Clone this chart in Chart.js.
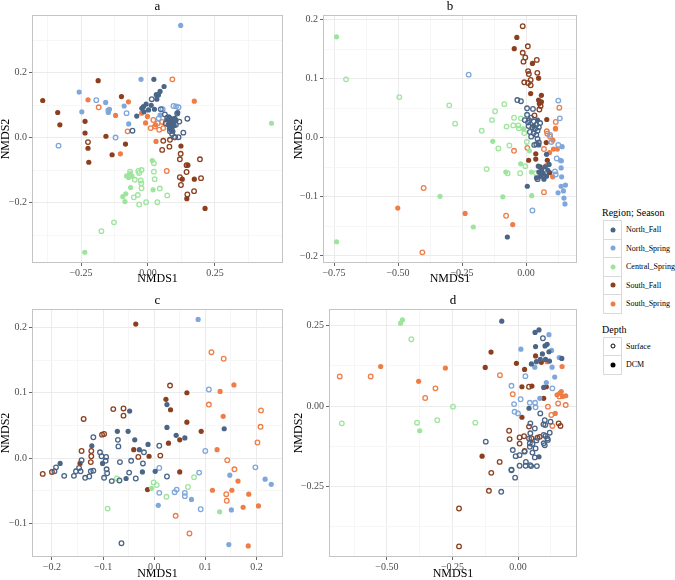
<!DOCTYPE html>
<html>
<head>
<meta charset="utf-8">
<script src="https://cdn.jsdelivr.net/npm/chart.js@4.4.1/dist/chart.umd.min.js"></script>
<style>
  body { margin: 0; background: #fff; font-family: "Liberation Serif", serif; }
  #wrap { position: relative; width: 675px; height: 580px; }
  #wrap canvas { position: absolute; }
  #legend { position: absolute; left: 602px; top: 205px; color: #000; }
  .ltitle { font-size: 10px; height: 15px; line-height: 15px; }
  .lrow { position: relative; height: 18.5px; }
  .lkey { position: absolute; left: 1px; top: 0; width: 17px; height: 17.5px; border: 1px solid #dadada; background: #fff; }
  .lkey i { position: absolute; left: 50%; top: 50%; border-radius: 50%; transform: translate(-50%, -50%); }
  .llab { position: absolute; left: 24px; top: 0; line-height: 19px; font-size: 8px; white-space: nowrap; }
</style>
</head>
<body>
<div id="wrap">
  <canvas id="pa" width="290" height="285" style="left:0;top:0"></canvas>
  <canvas id="pb" width="297" height="285" style="left:293px;top:0"></canvas>
  <canvas id="pc" width="290" height="295" style="left:0;top:285px"></canvas>
  <canvas id="pd" width="297" height="295" style="left:293px;top:285px"></canvas>
  <div id="legend"></div>
</div>
<script>
const regions = ['North_Fall', 'North_Spring', 'Central_Spring', 'South_Fall', 'South_Spring'];
const regionColors = ['#4a6587', '#7fa7db', '#9de59d', '#8c3f1e', '#ef7d47'];
const depths = ['Surface', 'DCM'];

// panel a  (NF = North_Fall, NS = North_Spring, CS = Central_Spring, SF = South_Fall, SS = South_Spring; _S surface, _D DCM)
const aNF_S = [[0.014,0.119],[0.048,0.088],[0.063,0.072],[0.109,0.075],[0.147,0.059],[0.132,0.016],[0.114,0.002],[0.098,0.002],[0.082,0.020],[0.066,0.045],[0.117,0.050],[-0.058,0.022],[0.072,0.062],[0.104,0.040],[0.090,0.012]];
const aNF_D = [[0.022,0.180],[0.060,0.158],[0.045,0.143],[0.039,0.132],[0.031,0.133],[0.033,0.119],[-0.007,0.104],[-0.017,0.096],[0.002,0.086],[0.024,0.088],[-0.023,0.091],[-0.042,0.067],[-0.015,0.080],[0.012,0.100],[0.078,0.065],[0.085,0.060],[0.092,0.055],[0.080,0.050],[0.088,0.045],[0.095,0.048],[0.100,0.060],[0.075,0.040],[0.083,0.035],[0.090,0.030],[0.098,0.038],[0.105,0.055],[0.086,0.025],[0.093,0.020],[0.080,0.028],[0.070,0.055],[0.111,0.078]];
const aNS_S = [[-0.193,0.116],[-0.148,0.084],[-0.080,0.076],[-0.121,0.001],[-0.334,-0.024],[0.095,0.098],[0.105,0.097],[0.114,0.094],[0.055,0.088],[0.040,0.060]];
const aNS_D = [[0.122,0.346],[-0.026,0.180],[-0.257,0.141],[-0.158,0.109],[-0.089,0.098],[-0.144,0.088],[-0.148,0.078],[-0.247,0.080],[-0.072,0.043],[0.045,0.070]];
const aCS_S = [[0.022,-0.078],[-0.024,-0.099],[-0.036,-0.102],[-0.033,-0.108],[-0.067,-0.104],[-0.049,-0.129],[-0.027,-0.131],[-0.025,-0.140],[0.022,-0.104],[0.025,-0.127],[-0.024,-0.155],[0.044,-0.156],[-0.038,-0.176],[-0.053,-0.183],[-0.033,-0.205],[-0.007,-0.198],[0.035,-0.198],[0.072,-0.177],[-0.127,-0.260],[-0.174,-0.287]];
const aCS_D = [[0.461,0.045],[0.016,-0.070],[-0.067,-0.110],[-0.080,-0.117],[-0.072,-0.122],[-0.060,-0.118],[-0.065,-0.153],[0.019,-0.160],[-0.083,-0.172],[-0.094,-0.181],[-0.086,-0.196],[-0.236,-0.352]];
const aSF_S = [[-0.224,-0.013],[0.057,-0.009],[0.082,-0.006],[0.080,-0.027],[0.053,-0.037],[0.101,0.002],[0.122,-0.049],[0.119,-0.066],[0.144,-0.084],[0.194,-0.066],[0.144,-0.105],[0.119,-0.121],[0.123,-0.145],[0.198,-0.124],[0.172,-0.164],[0.147,-0.174]];
const aSF_D = [[-0.186,0.176],[-0.393,0.115],[-0.099,0.127],[-0.337,0.078],[-0.235,0.051],[-0.329,0.040],[-0.235,0.015],[-0.157,0.005],[-0.224,-0.032],[-0.084,-0.019],[-0.134,-0.052],[-0.221,-0.075],[0.123,-0.025],[0.149,-0.084],[0.128,-0.127],[0.173,-0.127],[0.145,-0.187],[0.213,-0.217]];
const aSS_S = [[0.091,0.180],[-0.184,0.094],[-0.076,0.020],[0.020,0.055],[0.036,0.045],[0.053,0.049],[0.026,0.035],[0.010,0.030],[0.042,0.025],[0.057,0.030],[0.070,-0.102]];
const aSS_D = [[-0.224,0.117],[-0.073,0.111],[-0.121,0.069],[-0.024,0.076],[-0.002,0.066],[-0.009,0.046],[0.173,0.113],[0.030,-0.011],[-0.103,-0.049],[0.028,0.040]];

// panel b
const bNF_S = [[-0.034,0.064],[-0.020,0.062],[0.004,0.050],[0.027,0.049],[0.004,0.039],[0.012,0.030],[0.020,0.034],[0.030,0.028],[0.040,0.022],[0.010,0.020],[0.025,0.018],[0.035,0.015],[0.045,0.012],[0.015,0.010],[0.030,0.008],[0.040,0.005],[0.050,0.018],[0.055,0.025],[0.020,0.002],[0.045,-0.002],[0.050,-0.008],[0.032,-0.012],[0.040,-0.011],[-0.005,0.030],[0.008,0.026],[0.060,-0.062],[0.045,-0.070]];
const bNF_D = [[0.005,-0.082],[-0.073,-0.168],[0.041,-0.068],[0.057,-0.065],[0.067,-0.060],[0.080,-0.065],[0.061,-0.054],[0.074,-0.049],[0.050,-0.058],[0.085,-0.055],[0.070,-0.070],[0.048,-0.048],[0.090,-0.045],[0.080,-0.028],[0.050,-0.012],[0.030,0.020],[0.045,0.030]];
const bNS_S = [[-0.224,0.107],[0.126,0.063],[0.132,0.033],[0.099,-0.007],[0.126,-0.012],[0.120,-0.035],[0.113,-0.057],[0.116,-0.062],[0.025,-0.123],[0.094,0.005]];
const bNS_D = [[0.141,-0.015],[0.134,-0.038],[0.138,-0.039],[0.137,-0.051],[0.139,-0.066],[0.154,-0.080],[0.137,-0.082],[0.125,-0.093],[0.146,-0.090],[0.148,-0.102],[0.152,-0.112]];
const bCS_S = [[-0.703,0.099],[-0.495,0.069],[-0.300,0.055],[-0.277,0.024],[-0.173,0.012],[-0.133,0.030],[-0.121,0.045],[-0.085,0.057],[-0.108,-0.018],[-0.065,-0.013],[-0.076,0.019],[-0.047,0.034],[-0.050,0.021],[-0.030,0.021],[-0.028,0.016],[-0.020,0.033],[-0.007,0.008],[0.003,-0.007],[-0.154,-0.053],[-0.072,-0.060],[-0.003,-0.048],[-0.023,-0.060],[0.039,-0.060]];
const bCS_D = [[-0.740,0.171],[-0.130,-0.006],[-0.010,0.015],[0.013,-0.022],[-0.079,-0.058],[-0.021,-0.044],[0.021,-0.058],[-0.336,-0.099],[-0.091,-0.100],[0.022,-0.098],[-0.206,-0.151],[-0.740,-0.176]];
const bSF_S = [[-0.013,0.189],[0.007,0.155],[-0.013,0.144],[-0.003,0.136],[-0.010,0.129],[0.042,0.132],[0.008,0.113],[0.044,0.110],[0.011,0.108],[0.018,0.098],[-0.007,0.094],[0.008,0.093],[0.018,0.089],[0.057,0.054],[0.052,0.048],[0.033,0.038]];
const bSF_D = [[-0.036,0.170],[-0.046,0.151],[0.025,0.126],[0.049,0.101],[0.018,0.075],[0.060,0.072],[0.049,0.064],[0.060,0.061],[0.052,0.058],[0.081,0.031],[0.079,-0.008],[0.038,-0.027],[0.038,-0.036],[0.010,-0.038],[0.055,-0.049],[0.083,-0.038],[0.092,-0.059]];
const bSS_S = [[-0.400,-0.085],[-0.405,-0.194],[-0.078,-0.132],[-0.047,-0.022],[0.005,-0.017],[0.070,-0.019],[0.070,-0.092],[0.094,0.002],[0.081,0.011],[0.083,0.007],[0.116,0.027],[0.130,0.051]];
const bSS_D = [[-0.501,-0.119],[-0.238,-0.128],[-0.052,-0.147],[0.092,-0.025],[0.079,-0.047],[0.104,-0.066],[0.107,-0.019],[0.122,-0.019],[0.105,-0.004],[0.115,0.015],[0.115,0.016]];

// panel c
const cNF_S = [[-0.119,0.032],[-0.071,0.028],[-0.070,0.018],[-0.106,0.009],[-0.103,0.003],[-0.094,0.002],[-0.095,-0.004],[-0.142,-0.003],[-0.067,-0.006],[-0.045,-0.004],[-0.020,0.009],[-0.022,-0.008],[-0.192,-0.014],[-0.195,-0.020],[-0.176,-0.027],[-0.157,-0.027],[-0.153,-0.020],[-0.144,-0.020],[-0.147,-0.015],[-0.135,-0.030],[-0.127,-0.028],[-0.119,-0.019],[-0.124,-0.020],[-0.093,-0.017],[-0.092,-0.023],[-0.098,-0.030],[-0.083,-0.035],[-0.068,-0.034],[-0.049,-0.022],[-0.036,-0.031],[0.025,-0.028],[-0.064,-0.130],[0.010,0.019]];
const cNF_D = [[-0.048,0.072],[-0.072,0.041],[-0.051,0.041],[-0.038,0.028],[-0.012,0.021],[0.025,0.047],[0.025,0.082],[0.043,0.035],[0.060,0.031],[0.137,0.045],[-0.122,0.019],[-0.101,-0.008],[-0.184,-0.008],[-0.029,0.013],[-0.055,-0.031],[-0.023,-0.021],[0.002,-0.020]];
const cNS_S = [[0.107,0.105],[0.100,0.011],[0.010,-0.015],[0.010,-0.053],[0.044,-0.048],[0.040,-0.052],[0.060,-0.053],[0.060,-0.058],[0.088,-0.022],[0.091,-0.078],[0.198,-0.014]];
const cNS_D = [[0.086,0.212],[0.008,-0.072],[0.073,-0.063],[0.148,-0.026],[0.151,-0.079],[0.217,-0.032],[0.229,-0.040],[0.146,-0.132]];
const cCS_S = [[-0.073,-0.031],[-0.091,-0.077],[-0.001,-0.037],[0.005,-0.041],[0.024,-0.059],[0.066,-0.044],[0.078,-0.029]];
const cCS_D = [[-0.005,-0.046],[0.128,-0.082]];
const cSF_S = [[0.031,0.111],[0.012,0.004],[-0.031,0.002],[-0.138,0.060],[-0.080,0.075],[-0.060,0.076],[-0.060,0.065],[-0.102,0.036],[-0.098,0.037],[-0.142,0.011],[-0.123,0.011],[-0.123,0.003],[-0.124,-0.006],[-0.218,-0.024],[-0.200,-0.021]];
const cSF_D = [[-0.036,0.205],[0.023,0.090],[0.032,0.074],[0.064,0.100],[0.064,0.055],[0.092,0.041],[0.028,0.023],[0.050,0.028],[-0.010,0.003],[-0.040,0.013],[0.050,-0.021],[-0.013,-0.048],[-0.145,-0.008]];
const cSS_S = [[0.112,0.162],[0.136,0.152],[0.107,0.082],[0.209,0.073],[0.208,0.048],[0.202,0.024],[0.143,-0.003],[0.157,-0.017],[0.141,-0.055],[0.142,-0.065],[0.042,-0.088],[0.069,-0.115]];
const cSS_D = [[0.156,0.112],[0.129,0.102],[0.135,0.064],[0.123,0.013],[0.164,-0.035],[0.114,-0.049],[0.152,-0.049],[0.185,-0.055],[0.174,-0.075],[0.204,-0.073],[0.184,-0.134]];

// panel d
const dNF_S = [[0.095,0.211],[-0.123,-0.111],[-0.064,-0.267],[-0.025,-0.200],[-0.011,-0.223],[0.006,-0.186],[0.029,-0.186],[0.046,-0.184],[-0.020,-0.137],[0.025,-0.142],[0.006,-0.153],[0.045,-0.127],[0.045,-0.116],[0.064,-0.160],[0.055,-0.145],[0.067,-0.132],[0.042,-0.101],[0.047,-0.085],[0.047,-0.054],[0.064,-0.070],[0.085,-0.023],[0.102,-0.044],[0.104,-0.059],[0.097,-0.057],[0.124,-0.049],[0.098,-0.090],[0.105,-0.093],[0.114,-0.106],[0.112,-0.101],[0.098,-0.116],[0.102,-0.122],[0.121,-0.083],[-0.009,-0.156],[0.030,-0.174],[0.050,-0.187],[0.072,-0.187],[-0.025,-0.198],[0.055,-0.118],[0.070,-0.107]];
const dNF_D = [[-0.062,0.264],[0.080,0.237],[0.065,0.229],[0.067,0.185],[0.111,0.192],[0.103,0.187],[0.118,0.169],[0.093,0.162],[0.085,0.145],[0.105,0.145],[0.167,0.148],[0.051,0.131],[0.070,0.138],[0.042,-0.007],[0.080,-0.158],[0.120,0.140],[0.098,0.058]];
const dNS_S = [[0.028,0.093],[-0.025,0.063],[0.131,0.055],[0.010,0.021],[-0.015,0.006],[0.045,0.010],[0.065,0.010],[0.067,-0.004],[-0.013,-0.018],[0.000,-0.023]];
const dNS_D = [[0.118,0.222],[0.011,0.177],[0.128,0.173],[0.157,0.151],[0.130,0.121],[0.064,0.121],[0.108,0.073],[0.083,0.024],[0.140,0.090]];
const dCS_S = [[-0.407,0.208],[-0.672,-0.054],[-0.385,-0.052],[-0.308,-0.044],[-0.248,-0.002],[-0.163,-0.052]];
const dCS_D = [[-0.441,0.268],[-0.448,0.258],[-0.375,-0.077]];
const dSF_S = [[-0.225,-0.319],[-0.225,-0.437],[-0.102,-0.208],[-0.111,-0.264],[-0.070,-0.174],[0.042,0.060],[-0.034,-0.077],[-0.032,-0.103],[0.006,-0.098],[0.023,-0.094],[0.006,-0.117],[0.051,-0.100],[0.074,-0.099],[0.083,-0.096],[0.025,-0.140],[0.155,-0.054],[0.162,-0.062],[0.042,-0.064]];
const dSF_D = [[-0.137,-0.156],[-0.125,0.120],[-0.103,0.168],[-0.006,0.133],[0.025,0.114],[0.015,0.060],[0.053,0.062],[0.067,0.156],[0.108,0.060],[0.098,0.024],[0.015,-0.035],[0.089,0.136]];
const dSS_S = [[-0.680,0.092],[-0.562,0.092],[-0.315,0.055],[-0.354,0.025],[-0.069,0.096],[-0.020,0.037],[0.153,0.008],[0.182,0.003],[0.114,-0.002],[0.127,-0.028],[0.131,-0.062],[0.158,0.030]];
const dSS_D = [[-0.524,0.123],[-0.277,0.118],[-0.379,0.077],[0.111,0.138],[0.168,0.123],[0.149,0.035],[0.160,0.040],[0.170,0.030],[0.182,0.032],[0.142,-0.023],[0.165,0.045]];

// axis ranges and ticks
const aXRange = [-0.433, 0.504], aYRange = [-0.385, 0.378];
const aXTicks = [-0.25, 0, 0.25], aXLabels = ['\u22120.25', '0.00', '0.25'], aXMinor = [-0.375, -0.125, 0.125, 0.375];
const aYTicks = [-0.2, 0, 0.2], aYLabels = ['\u22120.2', '0.0', '0.2'], aYMinor = [-0.3, -0.1, 0.1, 0.3];

const bXRange = [-0.793, 0.199], bYRange = [-0.212, 0.208];
const bXTicks = [-0.75, -0.5, -0.25, 0], bXLabels = ['\u22120.75', '\u22120.50', '\u22120.25', '0.00'], bXMinor = [-0.625, -0.375, -0.125, 0.125];
const bYTicks = [-0.2, -0.1, 0, 0.1, 0.2], bYLabels = ['\u22120.2', '\u22120.1', '0.0', '0.1', '0.2'], bYMinor = [-0.15, -0.05, 0.05, 0.15];

const cXRange = [-0.239, 0.252], cYRange = [-0.151, 0.228];
const cXTicks = [-0.2, -0.1, 0, 0.1, 0.2], cXLabels = ['\u22120.2', '\u22120.1', '0.0', '0.1', '0.2'], cXMinor = [-0.15, -0.05, 0.05, 0.15];
const cYTicks = [-0.1, 0, 0.1, 0.2], cYLabels = ['\u22120.1', '0.0', '0.1', '0.2'], cYMinor = [-0.05, 0.05, 0.15];

const dXRange = [-0.721, 0.225], dYRange = [-0.470, 0.302];
const dXTicks = [-0.5, -0.25, 0], dXLabels = ['\u22120.50', '\u22120.25', '0.00'], dXMinor = [-0.625, -0.375, -0.125, 0.125];
const dYTicks = [-0.25, 0, 0.25], dYLabels = ['\u22120.25', '0.00', '0.25'], dYMinor = [-0.375, -0.125, 0.125];

const SERIF = '"Liberation Serif", "Times New Roman", serif';

// border round the plot area + panel letter on top
const panelDeco = {
  id: 'panelDeco',
  afterDraw(chart, args, opts) {
    const { ctx, chartArea: a } = chart;
    ctx.save();
    ctx.strokeStyle = '#c4c4c4';
    ctx.lineWidth = 1;
    ctx.strokeRect(a.left + 0.5, a.top + 0.5, a.right - a.left - 1, a.bottom - a.top - 1);
    ctx.fillStyle = '#000';
    ctx.font = '13px ' + SERIF;
    ctx.textAlign = 'center';
    ctx.textBaseline = 'middle';
    ctx.fillText(opts.text, (a.left + a.right) / 2, a.top - 8.5);
    ctx.restore();
  }
};

function axis(range, majors, labels, minors, title, size, isX) {
  const all = majors.concat(minors).sort((p, q) => p - q);
  const isMajor = c => c.tick && majors.indexOf(c.tick.value) >= 0;
  return {
    type: 'linear',
    min: range[0],
    max: range[1],
    afterBuildTicks: s => { s.ticks = all.map(v => ({ value: v })); },
    afterFit: s => { if (isX) s.height = size; else s.width = size; },
    grid: {
      color: c => isMajor(c) ? '#ebebeb' : '#f6f6f6',
      lineWidth: 1,
      drawTicks: true,
      tickLength: 3,
      tickColor: c => isMajor(c) ? '#666' : 'rgba(0,0,0,0)'
    },
    border: { display: false },
    ticks: {
      autoSkip: false,
      maxRotation: 0,
      padding: isX ? 1 : 2,
      color: '#4d4d4d',
      font: { family: SERIF, size: 10 },
      callback: v => { const k = majors.indexOf(v); return k < 0 ? '' : labels[k]; }
    },
    title: { display: true, text: title, color: '#000', font: { family: SERIF, size: 12, lineHeight: 1 }, padding: 0 }
  };
}

function panel(id, letter, sets, xAx, yAx, pad) {
  const datasets = [];
  sets.forEach((pair, i) => {
    datasets.push({
      label: regions[i] + ' ' + depths[0],
      data: pair[0].map(p => ({ x: p[0], y: p[1] })),
      pointRadius: 2.3,
      pointBorderWidth: 1.3,
      pointBackgroundColor: 'rgba(0,0,0,0)',
      pointBorderColor: regionColors[i]
    });
    datasets.push({
      label: regions[i] + ' ' + depths[1],
      data: pair[1].map(p => ({ x: p[0], y: p[1] })),
      pointRadius: 2.6,
      pointBorderWidth: 0,
      pointBackgroundColor: regionColors[i],
      pointBorderColor: regionColors[i]
    });
  });
  new Chart(document.getElementById(id), {
    type: 'scatter',
    data: { datasets },
    options: {
      responsive: false,
      animation: false,
      layout: { padding: pad },
      scales: { x: xAx, y: yAx },
      plugins: { legend: { display: false }, tooltip: { enabled: false }, panelDeco: { text: letter } }
    },
    plugins: [panelDeco]
  });
}

panel('pa', 'a', [[aNF_S, aNF_D], [aNS_S, aNS_D], [aCS_S, aCS_D], [aSF_S, aSF_D], [aSS_S, aSS_D]],
  axis(aXRange, aXTicks, aXLabels, aXMinor, 'NMDS1', 22, true),
  axis(aYRange, aYTicks, aYLabels, aYMinor, 'NMDS2', 32, false),
  { top: 15, right: 7, left: 0, bottom: 0 });

panel('pb', 'b', [[bNF_S, bNF_D], [bNS_S, bNS_D], [bCS_S, bCS_D], [bSF_S, bSF_D], [bSS_S, bSS_D]],
  axis(bXRange, bXTicks, bXLabels, bXMinor, 'NMDS1', 22, true),
  axis(bYRange, bYTicks, bYLabels, bYMinor, 'NMDS2', 30, false),
  { top: 15, right: 13, left: 0, bottom: 0 });

panel('pc', 'c', [[cNF_S, cNF_D], [cNS_S, cNS_D], [cCS_S, cCS_D], [cSF_S, cSF_D], [cSS_S, cSS_D]],
  axis(cXRange, cXTicks, cXLabels, cXMinor, 'NMDS1', 23, true),
  axis(cYRange, cYTicks, cYLabels, cYMinor, 'NMDS2', 32, false),
  { top: 24, right: 7, left: 0, bottom: 0 });

panel('pd', 'd', [[dNF_S, dNF_D], [dNS_S, dNS_D], [dCS_S, dCS_D], [dSF_S, dSF_D], [dSS_S, dSS_D]],
  axis(dXRange, dXTicks, dXLabels, dXMinor, 'NMDS1', 23, true),
  axis(dYRange, dYTicks, dYLabels, dYMinor, 'NMDS2', 36, false),
  { top: 24, right: 13, left: 0, bottom: 0 });

// legend, built from the same category arrays
const legend = document.getElementById('legend');
function addTitle(text, marginTop) {
  const t = document.createElement('div');
  t.className = 'ltitle';
  t.style.marginTop = marginTop + 'px';
  t.textContent = text;
  legend.appendChild(t);
}
function addRow(text, dotCss) {
  const r = document.createElement('div');
  r.className = 'lrow';
  r.innerHTML = '<span class="lkey"><i style="' + dotCss + '"></i></span><span class="llab"></span>';
  r.querySelector('.llab').textContent = text;
  legend.appendChild(r);
}
addTitle('Region; Season', 0);
regions.forEach((r, i) => addRow(r, 'width:5px;height:5px;background:' + regionColors[i]));
addTitle('Depth', 9);
addRow(depths[0], 'width:3px;height:3px;border:1.3px solid #000;');
addRow(depths[1], 'width:5px;height:5px;background:#000');
</script>
</body>
</html>
